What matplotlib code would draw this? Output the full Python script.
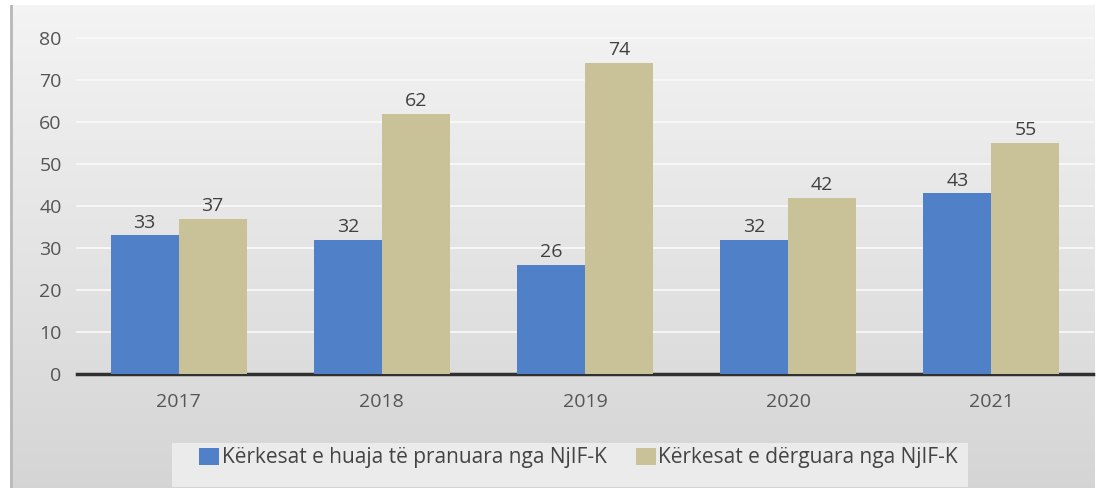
import numpy as np
import matplotlib.pyplot as plt

plt.rcParams['font.family'] = ['Open Sans', 'DejaVu Sans']

vitet = ['2017', '2018', '2019', '2020', '2021']
pranuara = [33, 32, 26, 32, 43]
derguara = [37, 62, 74, 42, 55]
emrat = ['Kërkesat e huaja të pranuara nga NjIF-K', 'Kërkesat e dërguara nga NjIF-K']
yticks = [0, 10, 20, 30, 40, 50, 60, 70, 80]

blu = '#5080c8'
bezhe = '#c9c298'

W, H = 1104, 493
fig = plt.figure(figsize=(W / 100, H / 100), dpi=100)
fig.patch.set_facecolor('white')

# sfondi gri me gradient
bg = fig.add_axes([10 / W, 5 / H, 1085 / W, 483 / H])
grad = np.linspace(0.955, 0.835, 256).reshape(-1, 1)
bg.imshow(np.dstack([grad, grad, grad]), aspect='auto', extent=[0, 1, 0, 1])
bg.axvline(0.001, color='#b8b8b8', lw=2)
bg.set_axis_off()

# kutia e legjendes
lb = fig.add_axes([172 / W, 6 / H, 796 / W, 44 / H])
lb.set_facecolor('#ebebeb')
lb.set_xticks([])
lb.set_yticks([])
for s in lb.spines.values():
    s.set_visible(False)

ax = fig.add_axes([77 / W, 1 - 374 / H, 1016 / W, 336 / H])
ax.patch.set_alpha(0)
x = np.arange(len(vitet))
w = 0.335
b1 = ax.bar(x - w / 2, pranuara, w, color=blu, label=emrat[0], zorder=3)
b2 = ax.bar(x + w / 2, derguara, w, color=bezhe, label=emrat[1], zorder=3)

for bars in (b1, b2):
    for r in bars:
        ax.text(r.get_x() + r.get_width() / 2, r.get_height() + 0.9, str(int(r.get_height())),
                ha='center', va='bottom', fontsize=14, color='#404040')

ax.set_xlim(-0.5, 4.5)
ax.set_ylim(0, 80)
ax.set_yticks(yticks)
ax.set_xticks(x)
ax.set_xticklabels(vitet)
ax.grid(axis='y', color='#fafafa', lw=1.2, zorder=0)
for g in ax.get_ygridlines():
    g.set_clip_on(False)
for k in ['top', 'right', 'left']:
    ax.spines[k].set_visible(False)
ax.spines['bottom'].set_color('#303030')
ax.spines['bottom'].set_linewidth(2.5)
ax.spines['bottom'].set_zorder(2)
ax.tick_params(axis='both', length=0, labelsize=14, labelcolor='#555555')
ax.tick_params(axis='y', pad=11)
ax.tick_params(axis='x', pad=14)

fig.legend(handles=[b1, b2], loc='center left', bbox_to_anchor=(199 / W, 1 - 458 / H), ncol=2,
           frameon=False, fontsize=15, borderpad=0, borderaxespad=0,
           handlelength=0.96, handleheight=0.92, handletextpad=0.12,
           columnspacing=1.4, labelcolor='#444444')

fig.savefig('out.png', dpi=100)
